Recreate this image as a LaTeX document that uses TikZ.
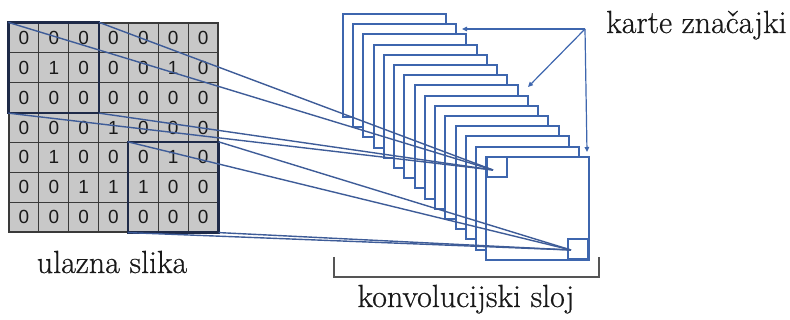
\documentclass[tikz,border=0pt]{standalone}
\usepackage{fontspec}
\newfontfamily\digitfont{Liberation Sans}
\newfontfamily\labelfont[FakeBold=0.6]{Latin Modern Roman}
\usetikzlibrary{arrows.meta}
\definecolor{cellgray}{HTML}{C8C8C8}
\definecolor{gridline}{HTML}{3A3A3A}
\definecolor{winline}{HTML}{1E2A48}
\definecolor{connblue}{HTML}{3E5C98}
\definecolor{mapblue}{HTML}{3E66AE}
\definecolor{brackgray}{HTML}{555555}
\tikzset{
  cellbox/.style={draw=gridline, line width=1.2pt, fill=cellgray, minimum size=29.85pt, inner sep=0pt, font=\digitfont\fontsize{19}{19}\selectfont, text=black!90},
  winbox/.style={draw=winline, line width=2.4pt},
  fmap/.style={draw=mapblue, line width=2pt, fill=white, minimum size=103pt, inner sep=0pt},
  smallsq/.style={draw=mapblue, line width=2pt, minimum size=20pt, inner sep=0pt},
  conn/.style={draw=connblue, line width=1.4pt},
  callout/.style={draw=mapblue, line width=1.2pt, -{Triangle[length=5pt,width=4.5pt]}},
  lbl/.style={font=\labelfont\fontsize{32}{32}\selectfont, anchor=base, inner sep=0pt, text=black!90},
}
\begin{document}
\begin{tikzpicture}[x=1pt, y=-1pt]
\useasboundingbox (0,0) rectangle (790,320);
% input grid
\def\cw{29.857}
\foreach \r/\row in {0/{0,0,0,0,0,0,0},1/{0,1,0,0,0,1,0},2/{0,0,0,0,0,0,0},3/{0,0,0,1,0,0,0},4/{0,1,0,0,0,1,0},5/{0,0,1,1,1,0,0},6/{0,0,0,0,0,0,0}}{
  \foreach \v [count=\c from 0] in \row {
    \node[cellbox] (c\r\c) at ({9+\cw*(\c+0.5)},{23+\cw*(\r+0.5)}) {\v};
  }
}
% windows
\draw[winbox] (c00.north west) rectangle (c22.south east);
\draw[winbox] (c44.north west) rectangle (c66.south east);
% feature maps
\foreach \i in {0,...,14}{
  \node[fmap] (f\i) at ({343+10.24*\i+51.5},{14+10.2*\i+51.5}) {};
}
\node[smallsq] (s1) at (497,167) {};
\node[smallsq] (s2) at (578,249) {};
\coordinate (p1) at (493,170);
\coordinate (p2) at (571,250);
% connectors
\draw[conn] (c00.north west) -- (p1);
\draw[conn] (c02.north east) -- (p1);
\draw[conn] (c20.south west) -- (p1);
\draw[conn] (c22.south east) -- (p1);
\draw[conn] (c44.north west) -- (p2);
\draw[conn] (c46.north east) -- (p2);
\draw[conn] (c64.south west) -- (p2);
\draw[conn] (c66.south east) -- (p2);
% callout arrows
\coordinate (kst) at (585,29);
\coordinate (ka) at (462,29);
\coordinate (kb) at (528,87);
\coordinate (kc) at (587,152);
\draw[callout] (kst) -- (ka);
\draw[callout] (kst) -- (kb);
\draw[callout] (kst) -- (kc);
% bracket
\coordinate (b1) at (334,257);
\coordinate (b2) at (334,277);
\coordinate (b3) at (599,277);
\coordinate (b4) at (599,257);
\draw[brackgray, line width=1.6pt] (b1) -- (b2) -- (b3) -- (b4);
% labels
\node[lbl] (lin) at (112,273) {ulazna slika};
\node[lbl] (lconv) at (466,307) {konvolucijski sloj};
\node[lbl, anchor=base west] (lmap) at (606,33) {karte značajki};
\end{tikzpicture}
\end{document}
